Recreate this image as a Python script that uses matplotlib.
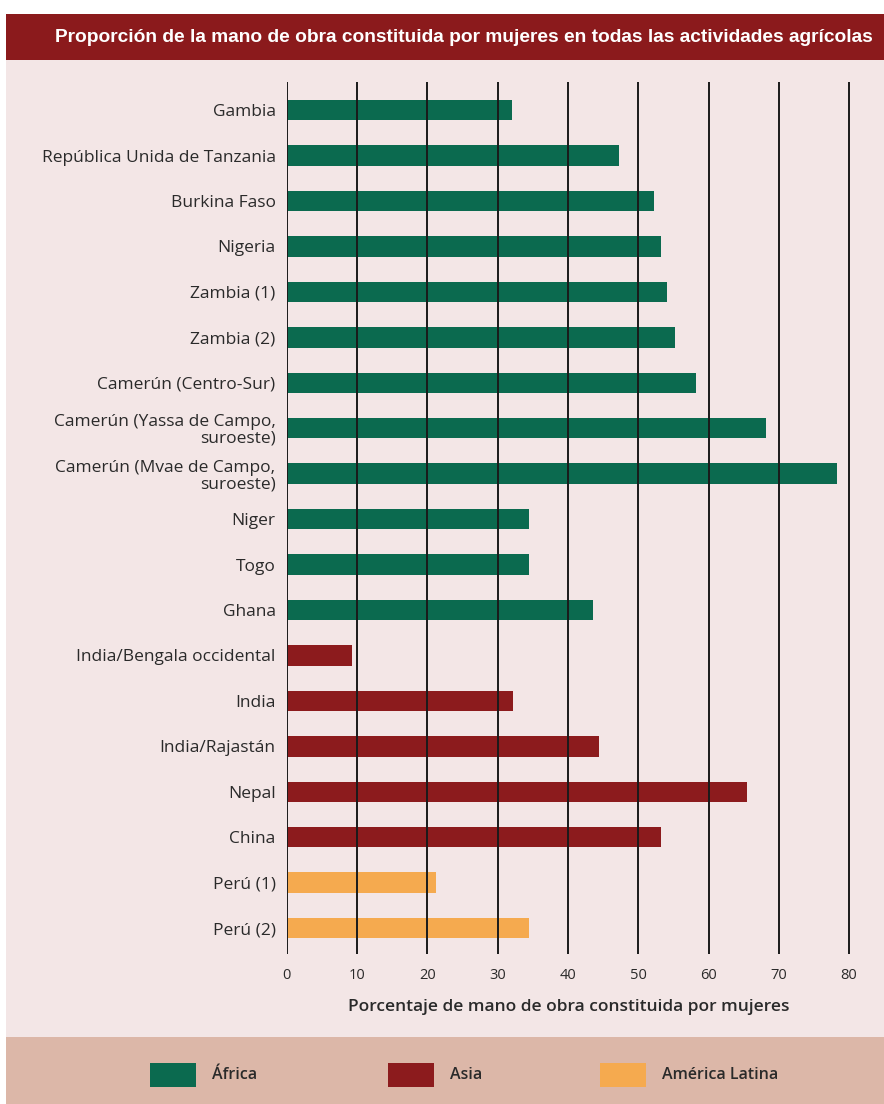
import matplotlib
matplotlib.use("Agg")
import matplotlib.pyplot as plt
from matplotlib.patches import Rectangle

categories = [
    "Gambia", "República Unida de Tanzania", "Burkina Faso", "Nigeria",
    "Zambia (1)", "Zambia (2)", "Camerún (Centro-Sur)",
    "Camerún (Yassa de Campo,\nsuroeste)", "Camerún (Mvae de Campo,\nsuroeste)",
    "Niger", "Togo", "Ghana",
    "India/Bengala occidental", "India", "India/Rajastán", "Nepal", "China",
    "Perú (1)", "Perú (2)",
]
values = [32.1, 47.2, 52.2, 53.2, 54.1, 55.3, 58.2, 68.2, 78.3,
          34.4, 34.4, 43.5,
          9.3, 32.2, 44.4, 65.5, 53.2,
          21.2, 34.4]
regions = ["África"] * 12 + ["Asia"] * 5 + ["América Latina"] * 2
region_names = ["África", "Asia", "América Latina"]
region_colors = {"África": "#0b6a4f", "Asia": "#8c1b1d", "América Latina": "#f5aa4f"}
xticks = [0, 10, 20, 30, 40, 50, 60, 70, 80]

title = "Proporción de la mano de obra constituida por mujeres en todas las actividades agrícolas"
xlabel = "Porcentaje de mano de obra constituida por mujeres"

W, H = 884, 1104
fig = plt.figure(figsize=(W / 100, H / 100), dpi=100)
fig.patch.set_facecolor("white")

def fx(px):
    return px / W

def fy(py):
    return 1 - py / H

# backgrounds
for (x, y0, y1, c) in [(6, 60, 1037, "#f3e6e6"), (6, 1037, H, "#dcb7a8"), (6, 14, 60, "#8b1a1c")]:
    fig.patches.append(Rectangle((fx(x), fy(y1)), 1 - fx(x), fy(y0) - fy(y1),
                                 transform=fig.transFigure, facecolor=c,
                                 edgecolor="none", zorder=-5))

ttl = fig.text(fx(55), fy(37), title, color="white", fontsize=13, fontweight="bold",
               family=["Liberation Sans", "DejaVu Sans"], va="center", ha="left", zorder=5)
fig.canvas.draw()
r = fig.canvas.get_renderer()
w = ttl.get_window_extent(r).width
ttl.set_fontsize(13 * 818 / w)

# axes
x0px, xscale = 286.7, 7.03
xmax = 82
left = fx(x0px)
right = fx(x0px + xmax * xscale)
top, bottom = fy(82), fy(954)
ax = fig.add_axes([left, bottom, right - left, top - bottom])
ax.set_zorder(2)
ax.set_facecolor("none")

n = len(categories)
ypos = list(range(n))
colors = [region_colors[r] for r in regions]
ax.barh(ypos, values, height=0.45, color=colors, zorder=2)
ax.set_xlim(0, xmax)
ax.set_ylim(n - 1 + 0.57, -0.62)

for t in xticks:
    ax.axvline(t, color="#1a1a1a", lw=1.4, zorder=3)

for s in ax.spines.values():
    s.set_visible(False)

ax.set_yticks(ypos)
ax.set_yticklabels(categories, fontsize=12.5, color="#2a2a2a",
                   family=["Open Sans", "DejaVu Sans"], linespacing=1.05)
ax.tick_params(axis="y", length=0, pad=8)
ax.set_xticks(xticks)
ax.set_xticklabels([str(t) for t in xticks], fontsize=10.5, color="#2a2a2a",
                   family=["Open Sans", "DejaVu Sans"])
ax.tick_params(axis="x", length=0, pad=10)
ax.set_xlabel(xlabel, fontsize=12.5, fontweight="semibold", color="#2a2a2a",
              family=["Open Sans", "DejaVu Sans"])
ax.xaxis.set_label_coords((fx(569) - left) / (right - left), -0.052)

# legend
leg_x = [150, 388, 600]
for name, px in zip(region_names, leg_x):
    fig.patches.append(Rectangle((fx(px), fy(1087)), fx(46), fy(1063) - fy(1087),
                                 transform=fig.transFigure,
                                 facecolor=region_colors[name], edgecolor="none", zorder=3))
    fig.text(fx(px + 62), fy(1075), name, fontsize=11.5, color="#2a2a2a",
             fontweight="semibold", family=["Open Sans", "DejaVu Sans"],
             va="center", ha="left", zorder=5)

fig.savefig("out.png", dpi=100)
